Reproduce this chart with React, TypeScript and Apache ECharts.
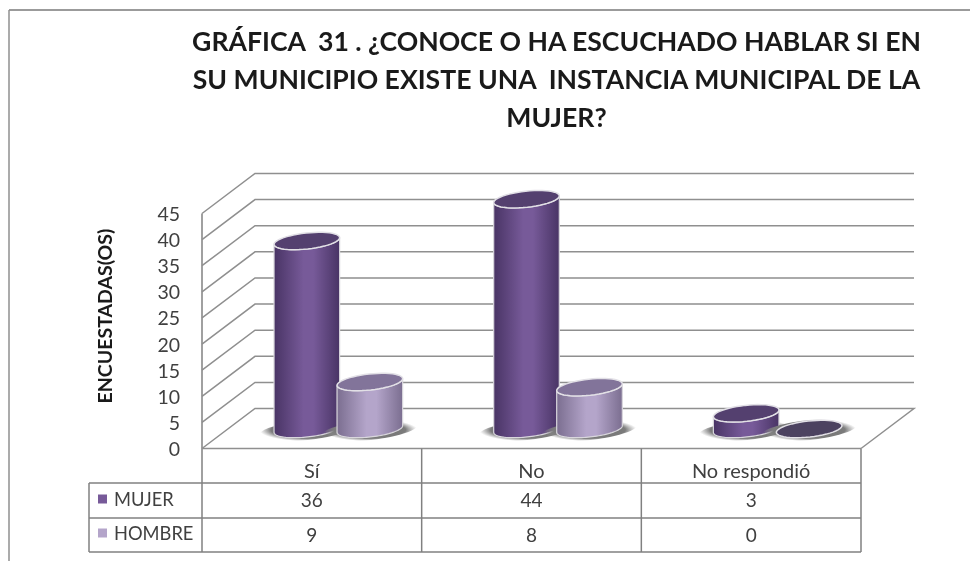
import React, { useEffect, useRef } from "react";
import * as echarts from "echarts";

const titleLines = [
  "GRÁFICA  31 . ¿CONOCE O HA ESCUCHADO HABLAR SI EN",
  "SU MUNICIPIO EXISTE UNA  INSTANCIA MUNICIPAL DE LA",
  "MUJER?",
];
const categories = ["Sí", "No", "No respondió"];
const mujer = [36, 44, 3];
const hombre = [9, 8, 0];
const yTicks = [0, 5, 10, 15, 20, 25, 30, 35, 40, 45];
const yAxisName = "ENCUESTADAS(OS)";

const FONT = "Lato";
const LINE = "#8f8f8f";
const TABLE = "#808080";
const TEXT = "#404040";
const GRID = { left: 202, top: 213.5, width: 659, height: 235 };
const DX = 53;
const DY = -40;
const TILT = (6.2 * Math.PI) / 180;
const RX = 33;
const RY = 8;
const ROWS = [499.5, 534.5];

function ell(cx: number, cy: number, rx: number, ry: number, from = 0, to = Math.PI * 2, tilt = TILT) {
  const pts: number[][] = [];
  const n = 48;
  for (let i = 0; i <= n; i++) {
    const t = from + ((to - from) * i) / n;
    const x = rx * Math.cos(t);
    const y = ry * Math.sin(t);
    pts.push([cx + x * Math.cos(tilt) + y * Math.sin(tilt), cy - x * Math.sin(tilt) + y * Math.cos(tilt)]);
  }
  return pts;
}

function grad(a: string, b: string) {
  return new echarts.graphic.LinearGradient(0, 0, 1, 0, [
    { offset: 0, color: a },
    { offset: 0.45, color: b },
    { offset: 0.6, color: b },
    { offset: 1, color: a },
  ]);
}

function cylinderSeries(
  name: string,
  values: number[],
  side: number,
  row: number,
  edge: string,
  mid: string,
  top: string,
  z: number,
) {
  return {
    type: "custom",
    name,
    z,
    clip: false,
    itemStyle: { color: mid },
    data: values.map((v, i) => [i, v]),
    encode: { x: 0, y: 1 },
    renderItem(_: any, api: any) {
      const i = api.value(0);
      const v = api.value(1);
      const base = api.coord([i, 0]);
      const head = api.coord([i, v]);
      const cx = base[0] + DX / 2 + side * 31.5;
      const by = base[1] + DY / 2 + 0.5;
      const ty = head[1] + DY / 2 + 0.5;
      const children: any[] = [
        {
          type: "polygon",
          z2: 1,
          shape: { points: ell(cx, by + 1, RX + 15, RY + 2) },
          style: {
            fill: new echarts.graphic.RadialGradient(0.5, 0.5, 0.5, [
              { offset: 0, color: "#6a6a6a" },
              { offset: 0.75, color: "#7c7c7c" },
              { offset: 1, color: "rgba(150,150,150,0)" },
            ]),
          },
        },
      ];
      if (v > 0) {
        const pts = [...ell(cx, by, RX, RY, 0, Math.PI), ...ell(cx, ty, RX, RY, Math.PI, 0)];
        children.push({
          type: "polygon",
          z2: 5 + side,
          shape: { points: pts },
          style: { fill: grad(edge, mid), stroke: "#d9d7dd", lineWidth: 1.2 },
        });
      }
      children.push({
        type: "polygon",
        z2: 6 + side,
        shape: { points: ell(cx, ty, RX, RY) },
        style: { fill: v > 0 ? top : "#4c4260", stroke: "#e2e0e6", lineWidth: 1.5 },
      });
      children.push({
        type: "text",
        z2: 10,
        style: {
          x: base[0],
          y: ROWS[row],
          text: String(v),
          fill: TEXT,
          font: `19px ${FONT}`,
          align: "center",
          verticalAlign: "middle",
        },
      });
      return { type: "group", children };
    },
  };
}

const wallSeries = {
  type: "custom",
  name: "paredes",
  z: 1,
  silent: true,
  clip: false,
  data: yTicks.map((t) => [0, t]),
  encode: { x: 0, y: 1 },
  renderItem(params: any, api: any) {
    const cs = params.coordSys;
    const y = api.coord([0, api.value(1)])[1];
    const x0 = cs.x;
    const x1 = cs.x + cs.width;
    const pts = [
      [x0, y],
      [x0 + DX, y + DY],
      [x1 + DX, y + DY],
    ];
    if (api.value(1) === 0) pts.push([x1, y]);
    return {
      type: "polyline",
      shape: { points: pts },
      style: { stroke: LINE, lineWidth: 1.5, fill: "none" },
    };
  },
};

function tableLines() {
  const { left, top, width, height } = GRID;
  const bottom = top + height;
  const right = left + width;
  const step = width / categories.length;
  const legendLeft = 89;
  const rowLines = [483, 518, 552];
  const seg = (x1: number, y1: number, x2: number, y2: number, stroke = TABLE) => ({
    type: "line",
    shape: { x1, y1, x2, y2 },
    style: { stroke, lineWidth: 1.5 },
  });
  const out: any[] = [
    seg(9, 10, 970, 10, "#7a7a7a"),
    seg(9, 10, 9, 561, "#8f8f8f"),
    seg(left, top, left, rowLines[2]),
    seg(left, bottom, right, bottom, LINE),
    seg(right, bottom, right, rowLines[2]),
    seg(legendLeft, rowLines[0], legendLeft, rowLines[2]),
  ];
  rowLines.forEach((y) => out.push(seg(legendLeft, y, right, y)));
  categories.slice(1).forEach((_, i) => {
    const x = left + step * (i + 1);
    out.push(seg(x, bottom, x, rowLines[2]));
  });
  return out;
}

export default function App() {
  const ref = useRef<HTMLDivElement>(null);
  useEffect(() => {
    const chart = echarts.init(ref.current!, null, { renderer: "svg" });
    chart.setOption({
      animation: false,
      backgroundColor: "#ffffff",
      title: {
        text: titleLines.join("\n"),
        left: 551.5,
        top: 17,
        textAlign: "center",
        textStyle: {
          fontFamily: FONT,
          fontWeight: "bold",
          fontSize: 26.6,
          lineHeight: 38,
          color: "#1a1a1a",
        },
      },
      grid: GRID,
      legend: {
        orient: "vertical",
        left: 98,
        top: 490,
        padding: 0,
        itemWidth: 9,
        itemHeight: 9,
        itemGap: 16,
        icon: "rect",
        textStyle: { fontFamily: FONT, fontSize: 18.3, color: TEXT, padding: [0, 0, 0, 2] },
        data: ["MUJER", "HOMBRE"],
      },
      xAxis: {
        type: "category",
        data: categories,
        axisLine: { show: false },
        axisTick: { show: false },
        axisLabel: { fontFamily: FONT, fontSize: 20, color: TEXT, margin: 11 },
      },
      yAxis: {
        type: "value",
        min: 0,
        max: 45,
        interval: 5,
        name: yAxisName,
        nameLocation: "middle",
        nameGap: 88,
        nameRotate: 90,
        nameTextStyle: {
          fontFamily: FONT,
          fontWeight: "bold",
          fontSize: 19.5,
          color: "#1a1a1a",
          padding: [0, 0, 0, 30],
        },
        splitLine: { show: false },
        axisLine: { show: false },
        axisTick: { show: false },
        axisLabel: { fontFamily: FONT, fontSize: 19.5, color: TEXT, margin: 22 },
      },
      graphic: tableLines().map((g) => ({ ...g, z: 0 })),
      series: [
        wallSeries,
        cylinderSeries("MUJER", mujer, -1, 0, "#493465", "#775a99", "#54406f", 3),
        cylinderSeries("HOMBRE", hombre, 1, 1, "#7b6e90", "#b4a5ca", "#82749a", 4),
      ],
    });
    return () => chart.dispose();
  }, []);
  return (
    <div
      ref={ref}
      style={{ position: "fixed", left: 0, top: 0, width: 970, height: 561, filter: "blur(0.4px)" }}
    />
  );
}
